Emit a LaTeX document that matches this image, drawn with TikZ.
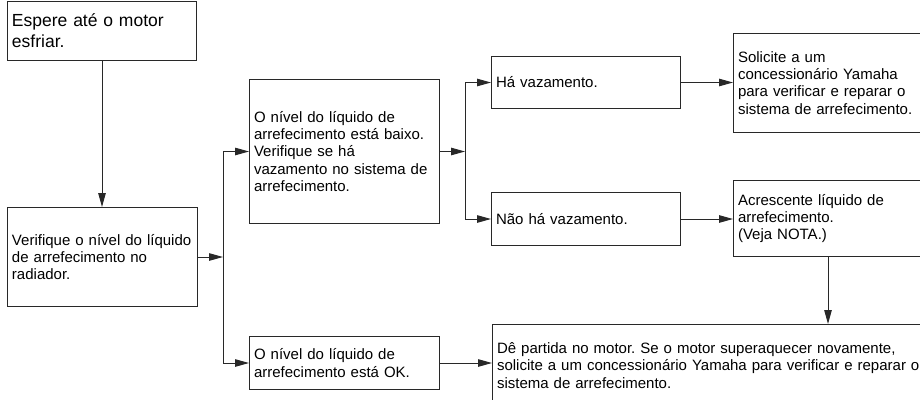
\documentclass[tikz,border=0pt]{standalone}
\usepackage{fontspec}
\setmainfont{Liberation Sans}
\frenchspacing
\usepackage{xcolor}
\definecolor{linegray}{RGB}{40,40,40}
\usepackage{tikz}
\usetikzlibrary{arrows.meta,positioning}

\begin{document}
\begin{tikzpicture}[x=1pt,y=-1pt,
box/.style={draw=linegray,line width=1pt,anchor=north west,align=left,inner xsep=4.5pt,inner ysep=0pt,font=\fontsize{15}{17.25}\selectfont},
arrow/.style={-{Triangle[length=14pt,width=7.5pt]},line width=1pt,draw=linegray}]
\useasboundingbox (0,0) rectangle (920,399);
\clip (0,0) rectangle (920,399);
\node[box,minimum width=189pt,minimum height=59pt,text width=180pt,font=\fontsize{17.5}{21}\selectfont] (cool) at (7,1) {Espere até o motor\\esfriar.};
\node[box,minimum width=190pt,minimum height=99pt,text width=181pt] (check) at (7,207) {Verifique o nível do líquido\\de arrefecimento no\\radiador.};
\node[box,minimum width=190pt,minimum height=144pt,text width=181pt] (low) at (249,79) {O nível do líquido de\\arrefecimento está baixo.\\Verifique se há\\vazamento no sistema de\\arrefecimento.};
\node[box,minimum width=190pt,minimum height=53pt,text width=181pt] (ok) at (249,336) {O nível do líquido de\\arrefecimento está OK.};
\node[box,minimum width=189pt,minimum height=52pt,text width=180pt] (leak) at (491,56) {Há vazamento.};
\node[box,minimum width=189pt,minimum height=53pt,text width=180pt] (noleak) at (491,192) {Não há vazamento.};
\node[box,minimum width=197pt,minimum height=99pt,text width=188pt] (dealer) at (733,33) {Solicite a um\\concessionário Yamaha\\para verificar e reparar o\\sistema de arrefecimento.};
\node[box,minimum width=197pt,minimum height=76pt,text width=188pt] (topup) at (733,180) {Acrescente líquido de\\arrefecimento.\\(Veja NOTA.)};
\node[box,minimum width=438pt,minimum height=82pt,text width=429pt] (restart) at (492,324) {Dê partida no motor. Se o motor superaquecer novamente,\\solicite a um concessionário Yamaha para verificar e reparar o\\sistema de arrefecimento.};
\coordinate (split1) at ([xshift=25pt]check.east);
\coordinate (split2) at ([xshift=25pt]low.east);
\coordinate (drop) at ([xshift=95pt]topup.south west);
\draw[arrow] (cool.south)--(cool.south |- check.north); \draw[arrow] (check.east)--(split1);
\draw[arrow] (split1)|-(low.west); \draw[arrow] (split1)|-(ok.west);
\draw[arrow] (low.east)--(split2); \draw[arrow] (split2)|-(leak.west); \draw[arrow] (split2)|-(noleak.west);
\draw[arrow] (leak.east)--(leak.east -| dealer.west); \draw[arrow] (noleak.east)--(noleak.east -| topup.west);
\draw[arrow] (drop)--(drop |- restart.north); \draw[arrow] (ok.east)--(ok.east -| restart.west);
\end{tikzpicture}
\end{document}
